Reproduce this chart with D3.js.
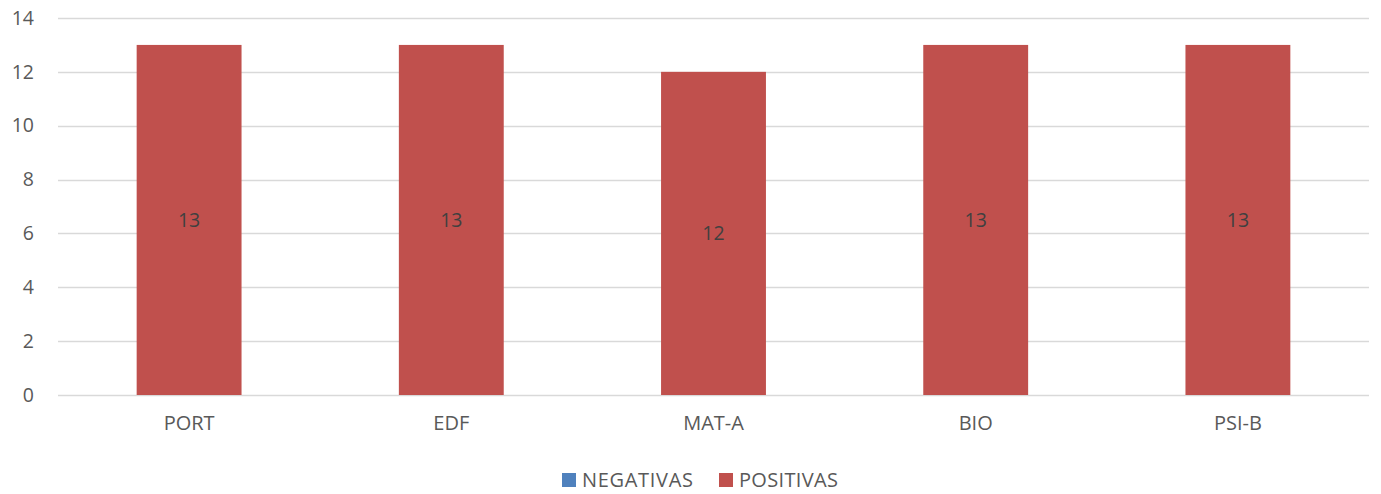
<!DOCTYPE html>
<html>
<head>
<meta charset="utf-8">
<script src="https://cdn.jsdelivr.net/npm/d3@7.9.0/dist/d3.min.js"></script>
<style>
  body { margin: 0; background: #fff; }
  svg { display: block; font-family: "Open Sans", "Liberation Sans", sans-serif; }
</style>
</head>
<body>
<div id="chart"></div>
<script>
const categories = ['PORT', 'EDF', 'MAT-A', 'BIO', 'PSI-B'];
const negativas = [0, 0, 0, 0, 0];
const positivas = [13, 13, 12, 13, 13];
const yTicks = [0, 2, 4, 6, 8, 10, 12, 14];
const seriesNames = ['NEGATIVAS', 'POSITIVAS'];
const colors = ['#4f81bd', '#c0504d'];

const width = 1381;
const height = 494;
const margin = { top: 18, right: 12, bottom: 99, left: 58 };

const svg = d3.select('#chart')
  .append('svg')
  .attr('width', width)
  .attr('height', height);

const rows = categories.map((c, i) => ({ cat: c, NEGATIVAS: negativas[i], POSITIVAS: positivas[i] }));
const stacked = d3.stack().keys(seriesNames)(rows);

const x = d3.scaleBand()
  .domain(categories)
  .range([margin.left, width - margin.right])
  .paddingInner(0.6)
  .paddingOuter(0.3);

const y = d3.scaleLinear()
  .domain([0, 14])
  .range([height - margin.bottom, margin.top]);

// gridlines
svg.append('g')
  .selectAll('line')
  .data(yTicks)
  .join('line')
  .attr('x1', margin.left)
  .attr('x2', width - margin.right)
  .attr('y1', d => Math.round(y(d)) + 0.5)
  .attr('y2', d => Math.round(y(d)) + 0.5)
  .attr('stroke', '#d9d9d9')
  .attr('stroke-width', 1.5);

// y axis labels
const yAxis = d3.axisLeft(y).tickValues(yTicks).tickSize(0).tickPadding(0);
svg.append('g')
  .attr('transform', `translate(34, 0)`)
  .call(yAxis)
  .call(g => g.select('.domain').remove())
  .call(g => g.selectAll('text')
    .attr('fill', '#595959')
    .attr('font-size', 19.5)
    .attr('font-family', '"Open Sans", sans-serif'));

// bars
const layers = svg.append('g')
  .selectAll('g')
  .data(stacked)
  .join('g')
  .attr('fill', (d, i) => colors[i]);

layers.selectAll('rect')
  .data(d => d)
  .join('rect')
  .attr('x', d => x(d.data.cat))
  .attr('width', x.bandwidth())
  .attr('y', d => y(d[1]))
  .attr('height', d => y(d[0]) - y(d[1]));

// data labels (positivas only, negativas are zero)
svg.append('g')
  .selectAll('text')
  .data(stacked[1])
  .join('text')
  .attr('x', d => x(d.data.cat) + x.bandwidth() / 2)
  .attr('y', d => (y(d[0]) + y(d[1])) / 2)
  .attr('dy', '0.35em')
  .attr('text-anchor', 'middle')
  .attr('fill', '#404040')
  .attr('font-size', 19.5)
  .text(d => d[1] - d[0]);

// x axis labels
const xAxis = d3.axisBottom(x).tickSize(0).tickPadding(0);
svg.append('g')
  .attr('transform', `translate(0, ${y(0) + 21})`)
  .call(xAxis)
  .call(g => g.select('.domain').remove())
  .call(g => g.selectAll('text')
    .attr('fill', '#595959')
    .attr('font-size', 20)
    .attr('font-family', '"Open Sans", sans-serif'));

// legend
const legendItems = [
  { name: seriesNames[0], color: colors[0], x: 562 },
  { name: seriesNames[1], color: colors[1], x: 719 }
];
const legend = svg.append('g');
legend.selectAll('rect')
  .data(legendItems)
  .join('rect')
  .attr('x', d => d.x)
  .attr('y', 473)
  .attr('width', 14)
  .attr('height', 14)
  .attr('fill', d => d.color);
legend.selectAll('text')
  .data(legendItems)
  .join('text')
  .attr('x', d => d.x + 20)
  .attr('y', 480)
  .attr('dy', '0.35em')
  .attr('fill', '#595959')
  .attr('font-size', 20)
  .attr('textLength', d => d.name === 'NEGATIVAS' ? 111 : 99)
  .text(d => d.name);
</script>
</body>
</html>
